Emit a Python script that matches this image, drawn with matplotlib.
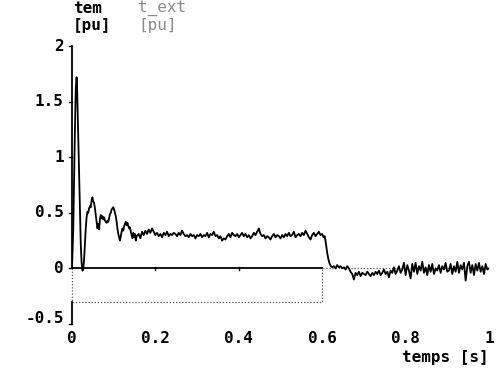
import numpy as np
import matplotlib.pyplot as plt

# electromagnetic torque tem [pu], start-up transient (hand sampled)
startup_t = [0.000, 0.003, 0.005, 0.007, 0.009, 0.011, 0.012, 0.013, 0.015, 0.017,
             0.019, 0.021, 0.023, 0.025, 0.027, 0.029, 0.031, 0.033, 0.035, 0.037,
             0.039, 0.041, 0.043, 0.045, 0.047, 0.049, 0.051, 0.053, 0.055, 0.057,
             0.059, 0.061, 0.063, 0.065, 0.067, 0.069, 0.071, 0.073, 0.075, 0.077,
             0.079, 0.081, 0.083, 0.085, 0.087, 0.089, 0.091, 0.093, 0.095, 0.097,
             0.099, 0.101, 0.103, 0.105, 0.107, 0.109, 0.111, 0.113, 0.115, 0.117,
             0.119, 0.121, 0.123, 0.125, 0.127, 0.129, 0.131, 0.133, 0.135, 0.137,
             0.139, 0.141, 0.143, 0.145, 0.147, 0.149, 0.151, 0.153, 0.155]
startup_tem = [0.00, 0.35, 0.80, 1.25, 1.62, 1.72, 1.66, 1.50, 1.20, 0.85,
               0.50, 0.22, 0.05, -0.02, -0.01, 0.08, 0.22, 0.36, 0.46, 0.51,
               0.50, 0.54, 0.56, 0.55, 0.61, 0.64, 0.60, 0.59, 0.54, 0.48,
               0.42, 0.36, 0.40, 0.35, 0.44, 0.48, 0.45, 0.47, 0.44, 0.46,
               0.43, 0.42, 0.41, 0.43, 0.42, 0.45, 0.49, 0.50, 0.53, 0.54,
               0.55, 0.53, 0.50, 0.47, 0.42, 0.36, 0.31, 0.28, 0.25, 0.29,
               0.33, 0.36, 0.34, 0.38, 0.40, 0.42, 0.39, 0.41, 0.38, 0.36,
               0.37, 0.33, 0.30, 0.27, 0.32, 0.28, 0.31, 0.25, 0.29]

# loaded steady state, 0.160 s .. 0.600 s every 4 ms
loaded_tem = [0.31, 0.27, 0.33, 0.30, 0.34, 0.31, 0.35, 0.32, 0.36, 0.33,
              0.30, 0.32, 0.29, 0.31, 0.28, 0.32, 0.30, 0.33, 0.29, 0.31,
              0.30, 0.32, 0.31, 0.29, 0.32, 0.30, 0.34, 0.31, 0.29, 0.30,
              0.28, 0.31, 0.29, 0.30, 0.27, 0.30, 0.29, 0.31, 0.28, 0.30,
              0.29, 0.32, 0.28, 0.31, 0.30, 0.33, 0.29, 0.30, 0.27, 0.29,
              0.25, 0.27, 0.26, 0.29, 0.31, 0.28, 0.32, 0.30, 0.29, 0.31,
              0.28, 0.30, 0.32, 0.29, 0.31, 0.28, 0.30, 0.27, 0.29, 0.32,
              0.30, 0.33, 0.36, 0.31, 0.29, 0.30, 0.27, 0.29, 0.28, 0.26,
              0.29, 0.31, 0.28, 0.30, 0.29, 0.27, 0.30, 0.28, 0.31, 0.29,
              0.32, 0.29, 0.30, 0.33, 0.28, 0.30, 0.31, 0.29, 0.32, 0.30,
              0.34, 0.31, 0.28, 0.26, 0.30, 0.32, 0.29, 0.31, 0.33, 0.30,
              0.31]

# load removal at 0.6 s
drop_t = [0.603, 0.606, 0.609, 0.612, 0.615, 0.618, 0.621]
drop_tem = [0.28, 0.29, 0.22, 0.14, 0.08, 0.04, 0.02]

# no-load, 0.624 s .. 1.0 s every 4 ms
noload_tem = [0.01, 0.02, 0.00, 0.03, 0.01, 0.02, 0.00, 0.01, -0.01, 0.02,
              0.00, -0.03, -0.05, -0.10, -0.04, -0.06, -0.03, -0.07, -0.04, -0.05,
              -0.06, -0.03, -0.05, -0.07, -0.04, -0.06, -0.03, -0.05, -0.02, -0.06,
              -0.04, -0.01, -0.05, -0.03, -0.08, -0.02, -0.04, 0.01, -0.05, -0.02,
              0.02, -0.04, -0.01, 0.05, -0.06, 0.03, -0.02, -0.09, 0.04, -0.03,
              0.05, -0.05, 0.02, -0.02, 0.06, -0.04, 0.01, -0.06, 0.03, -0.03,
              0.04, -0.05, 0.00, -0.02, 0.03, -0.04, 0.02, -0.01, 0.05, -0.03,
              -0.02, 0.04, -0.05, 0.02, -0.03, 0.06, -0.04, 0.03, -0.01, 0.05,
              -0.11, 0.02, 0.06, -0.04, 0.03, -0.06, 0.04, -0.02, 0.05, -0.03,
              0.02, -0.05, 0.04, -0.01, 0.00]

# load torque t_ext [pu]
t_ext_t = [0.0, 0.0, 0.6, 0.6, 1.0]
t_ext_v = [0.0, -0.3, -0.3, 0.0, 0.0]

y_ticks = [2, 1.5, 1, 0.5, 0, -0.5]
y_labels = ["2", "1.5", "1", "0.5", "0", "-0.5"]
x_ticks = [0, 0.2, 0.4, 0.6, 0.8, 1]
x_labels = ["0", "0.2", "0.4", "0.6", "0.8", "1"]

loaded_t = 0.160 + 0.004 * np.arange(len(loaded_tem))
noload_t = 0.624 + 0.004 * np.arange(len(noload_tem))
t = np.concatenate([startup_t, loaded_t, drop_t, noload_t])
tem = np.concatenate([startup_tem, loaded_tem, drop_tem, noload_tem])

font = dict(family="DejaVu Sans Mono", weight="bold", size=11.5)
grey_font = dict(font, weight="normal")

fig = plt.figure(figsize=(5, 3.69), dpi=100)
ax = fig.add_axes([0.144, 0.122, 0.834, 0.753])
ax.set_xlim(0, 1)
ax.set_ylim(-0.5, 2)
ax.axis("off")

# axes drawn by hand: y axis on the left, time axis along zero
ax.plot([0, 0], [0, 2], color="black", lw=1.3, clip_on=False)
ax.plot([0, 0], [-0.5, -0.3], color="black", lw=1.3, clip_on=False)
ax.plot([0, 0.6], [0, 0], color="black", lw=1.3)
for yt in y_ticks:
    ax.plot([-0.006, 0], [yt, yt], color="black", lw=1.0, clip_on=False)
for xt in x_ticks[1:3]:
    ax.plot([xt, xt], [-0.012, 0.012], color="black", lw=1.0)

ax.plot(t_ext_t, t_ext_v, color="#555555", lw=0.9, linestyle=(0, (1, 1.5)),
        clip_on=False)
ax.plot(t, tem, color="black", lw=1.3)

for yt, lab in zip(y_ticks, y_labels):
    ax.text(-0.02, yt + (0.05 if yt == -0.5 else 0), lab, ha="right",
            va="center", fontdict=font)
for xt, lab in zip(x_ticks, x_labels):
    ax.text(xt, -0.63, lab, ha="center", va="center", fontdict=font)
ax.text(1.0, -0.8, "temps [s]", ha="right", va="center", fontdict=font)

fig.text(0.146, 0.978, "tem", ha="left", va="center", fontdict=font)
fig.text(0.146, 0.930, "[pu]", ha="left", va="center", fontdict=font)
fig.text(0.276, 0.978, "t_ext", ha="left", va="center", color="#8a8a8a",
         fontdict=grey_font)
fig.text(0.276, 0.930, "[pu]", ha="left", va="center", color="#8a8a8a",
         fontdict=grey_font)

fig.savefig("out.png", dpi=100)
